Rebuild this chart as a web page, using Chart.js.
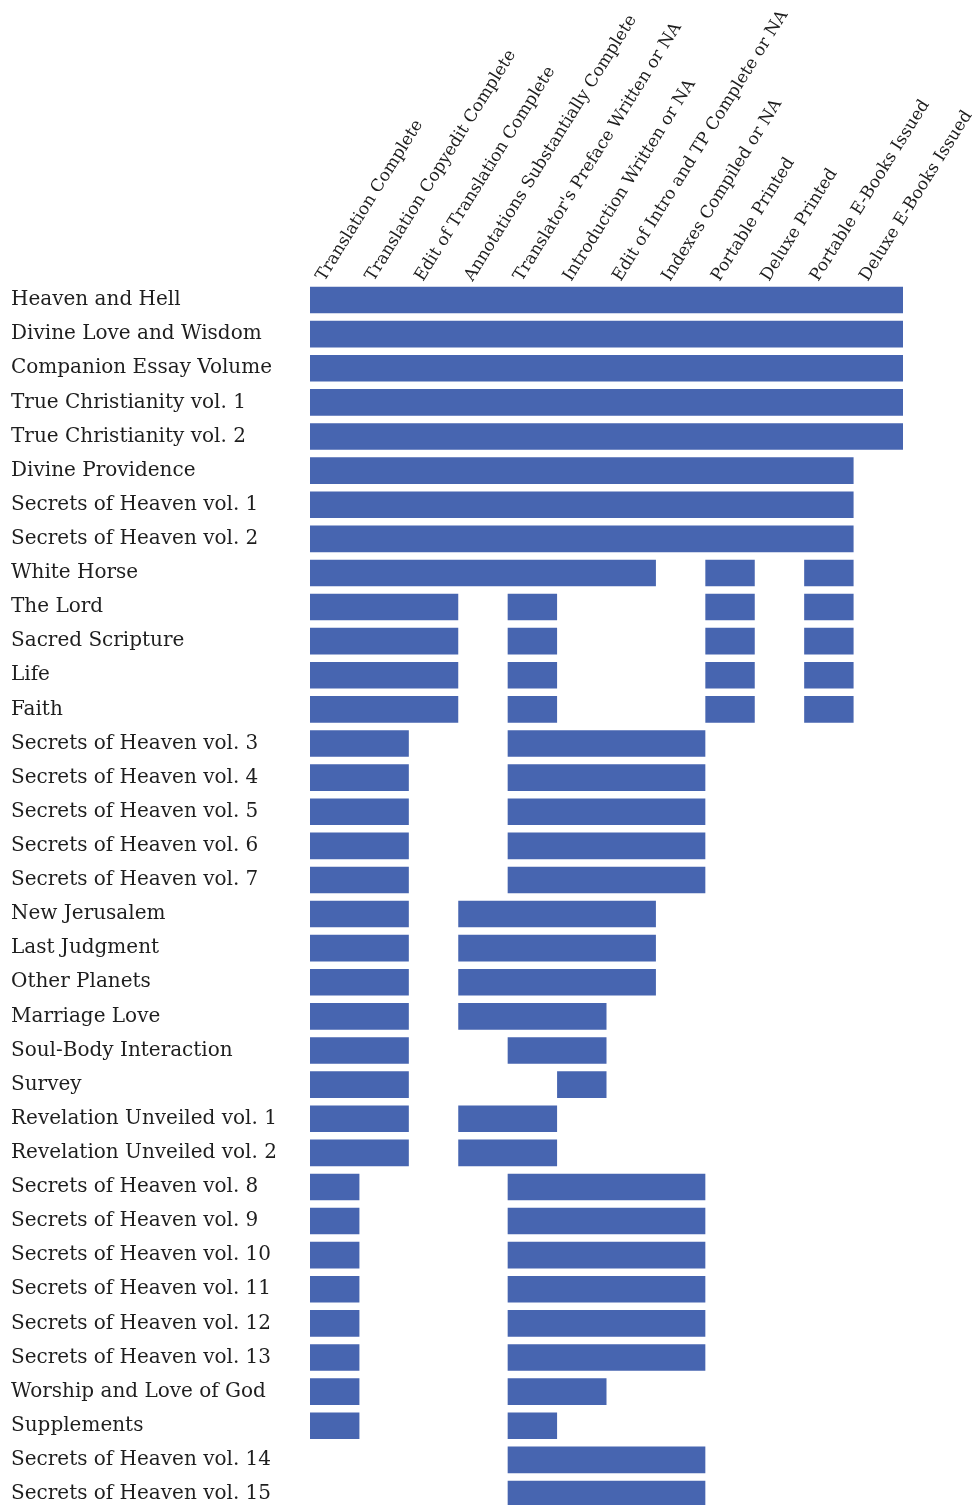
<!DOCTYPE html>
<html>
<head>
<meta charset="utf-8">
<script src="https://cdn.jsdelivr.net/npm/chart.js@4"></script>
<style>
  html, body { margin: 0; padding: 0; background: #fff; overflow: hidden; }
  #frame { width: 973px; height: 1505px; overflow: hidden; }
</style>
</head>
<body>
<div id="frame"><canvas id="chart" width="973" height="1511"></canvas></div>
<script>
const stages = [
  "Translation Complete",
  "Translation Copyedit Complete",
  "Edit of Translation Complete",
  "Annotations Substantially Complete",
  "Translator's Preface Written or NA",
  "Introduction Written or NA",
  "Edit of Intro and TP Complete or NA",
  "Indexes Compiled or NA",
  "Portable Printed",
  "Deluxe Printed",
  "Portable E-Books Issued",
  "Deluxe E-Books Issued",
];

const books = [
  "Heaven and Hell",
  "Divine Love and Wisdom",
  "Companion Essay Volume",
  "True Christianity vol. 1",
  "True Christianity vol. 2",
  "Divine Providence",
  "Secrets of Heaven vol. 1",
  "Secrets of Heaven vol. 2",
  "White Horse",
  "The Lord",
  "Sacred Scripture",
  "Life",
  "Faith",
  "Secrets of Heaven vol. 3",
  "Secrets of Heaven vol. 4",
  "Secrets of Heaven vol. 5",
  "Secrets of Heaven vol. 6",
  "Secrets of Heaven vol. 7",
  "New Jerusalem",
  "Last Judgment",
  "Other Planets",
  "Marriage Love",
  "Soul-Body Interaction",
  "Survey",
  "Revelation Unveiled vol. 1",
  "Revelation Unveiled vol. 2",
  "Secrets of Heaven vol. 8",
  "Secrets of Heaven vol. 9",
  "Secrets of Heaven vol. 10",
  "Secrets of Heaven vol. 11",
  "Secrets of Heaven vol. 12",
  "Secrets of Heaven vol. 13",
  "Worship and Love of God",
  "Supplements",
  "Secrets of Heaven vol. 14",
  "Secrets of Heaven vol. 15",
];

// [first stage, stage after last] for each run of finished stages, null where a book has no such run
const firstRun = [
  [0, 12], [0, 12], [0, 12], [0, 12], [0, 12],
  [0, 11], [0, 11], [0, 11],
  [0, 7],
  [0, 3], [0, 3], [0, 3], [0, 3],
  [0, 2], [0, 2], [0, 2], [0, 2], [0, 2],
  [0, 2], [0, 2], [0, 2], [0, 2], [0, 2], [0, 2], [0, 2], [0, 2],
  [0, 1], [0, 1], [0, 1], [0, 1], [0, 1], [0, 1], [0, 1], [0, 1],
  [4, 8], [4, 8],
];

const secondRun = [
  null, null, null, null, null,
  null, null, null,
  [8, 9],
  [4, 5], [4, 5], [4, 5], [4, 5],
  [4, 8], [4, 8], [4, 8], [4, 8], [4, 8],
  [3, 7], [3, 7], [3, 7], [3, 6], [4, 6], [5, 6], [3, 5], [3, 5],
  [4, 8], [4, 8], [4, 8], [4, 8], [4, 8], [4, 8], [4, 6], [4, 5],
  null, null,
];

const thirdRun = [
  null, null, null, null, null,
  null, null, null,
  [10, 11],
  [8, 9], [8, 9], [8, 9], [8, 9],
  null, null, null, null, null,
  null, null, null, null, null, null, null, null,
  null, null, null, null, null, null, null, null,
  null, null,
];

const fourthRun = [
  null, null, null, null, null,
  null, null, null,
  null,
  [10, 11], [10, 11], [10, 11], [10, 11],
  null, null, null, null, null,
  null, null, null, null, null, null, null, null,
  null, null, null, null, null, null, null, null,
  null, null,
];

const barColor = "#4765b0";
const textColor = "#1e1e1e";

function runDataset(runs) {
  return {
    data: runs,
    backgroundColor: barColor,
    borderWidth: 0,
    borderSkipped: false,
    grouped: false,
    categoryPercentage: 1,
    barPercentage: 0.78,
  };
}

new Chart(document.getElementById("chart"), {
  type: "bar",
  data: {
    labels: books,
    datasets: [firstRun, secondRun, thirdRun, fourthRun].map(runDataset),
  },
  options: {
    indexAxis: "y",
    responsive: false,
    animation: false,
    layout: {
      padding: { left: 11, right: 70, top: 0, bottom: 0 },
    },
    plugins: {
      legend: { display: false },
      tooltip: { enabled: false },
    },
    scales: {
      x: {
        type: "linear",
        min: 0,
        max: stages.length,
        display: false,
      },
      stageAxis: {
        type: "category",
        axis: "x",
        position: "top",
        labels: stages,
        offset: true,
        grid: { display: false, drawTicks: false },
        border: { display: false },
        ticks: {
          autoSkip: false,
          minRotation: 58,
          maxRotation: 58,
          padding: -2,
          labelOffset: 3,
          color: textColor,
          font: { family: "DejaVu Serif", size: 17 },
        },
        afterFit(scale) {
          scale.height = 283;
          scale.paddingLeft = 0;
          scale.paddingRight = 0;
        },
      },
      y: {
        grid: { display: false, drawTicks: false },
        border: { display: false },
        ticks: {
          autoSkip: false,
          crossAlign: "far",
          color: textColor,
          font: { family: "DejaVu Serif", size: 20 },
        },
        afterFit(scale) {
          scale.width = 299;
          scale.paddingTop = 0;
          scale.paddingBottom = 0;
        },
      },
    },
  },
});
</script>
</body>
</html>
